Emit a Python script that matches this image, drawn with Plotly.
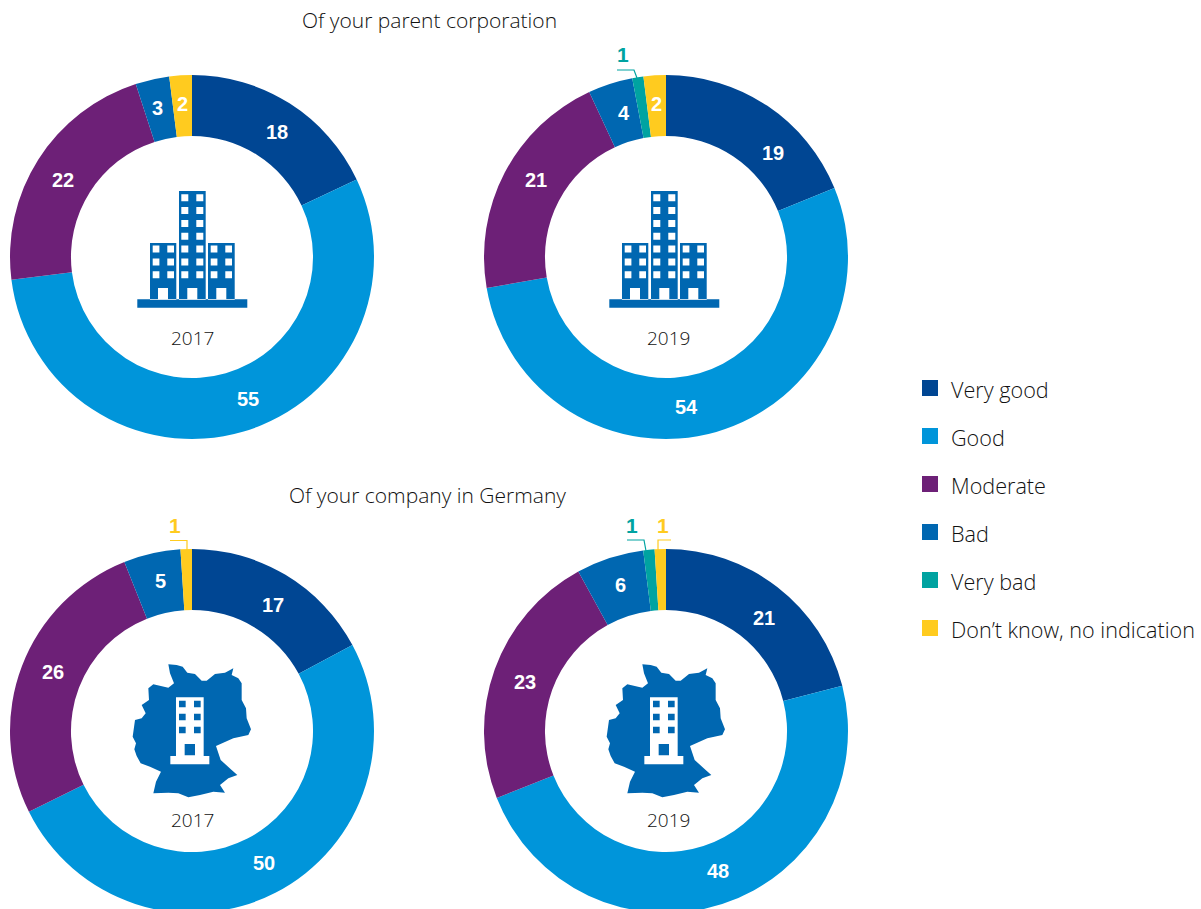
import plotly.graph_objects as go

W, H = 1201, 914
categories = ["Very good", "Good", "Moderate", "Bad", "Very bad", "Don’t know, no indication"]
colors = ["#004693", "#0095DA", "#6D2077", "#0067B1", "#00A3A1", "#FFCB1F"]
parent_2017 = [18, 55, 22, 3, 0, 2]
parent_2019 = [19, 54, 21, 4, 1, 2]
germany_2017 = [17, 50, 26, 5, 0, 1]
germany_2019 = [21, 48, 23, 6, 1, 1]
years = ["2017", "2019"]
titles = ["Of your parent corporation", "Of your company in Germany"]
R = 182
FONT = "Open Sans"
BOLD = "Liberation Sans"
TEXT = "#111111"

# where the reference places each white value label, one (x, y) per category (None: no inside label)
spots_parent_2017 = [(277,132), (248,399), (63,180), (157,108.5), None, (182,104)]
spots_parent_2019 = [(773,153), (686,407), (536,180), (624,113), None, (656,104)]
spots_germany_2017 = [(273,605), (264,863), (53,672), (160,581), None, None]
spots_germany_2019 = [(764,618), (718,871), (525,682), (620,585), None, None]

def X(p): return p / W
def Y(p): return 1 - p / H

def path(points):
    return "M " + " L ".join(f"{X(x):.5f},{Y(y):.5f}" for x, y in points) + " Z"

def rect(x0, y0, x1, y1):
    return path([(x0, y0), (x1, y0), (x1, y1), (x0, y1)])

def fill(d, color):
    return dict(type="path", path=d, xref="paper", yref="paper", fillcolor=color, line_width=0)

def building(dx):
    blue = "#0067B1"
    shapes = [fill(" ".join([rect(137.3+dx, 299.3, 247.3+dx, 307.7), rect(179+dx, 191, 205.7+dx, 300),
                             rect(150+dx, 243, 176.3+dx, 300), rect(208+dx, 243, 234.7+dx, 300)]), blue)]
    rows = [194.3, 207.1, 220, 232.8, 245.6, 258.4, 271.3]
    wins = []
    for i, y in enumerate(rows):
        for x in (181.3, 196.3):
            wins.append(rect(x+dx, y, x+7+dx, y+7))
        if i >= 4:
            for x in (152.7, 167.3, 210.7, 225.3):
                wins.append(rect(x+dx, y, x+6.7+dx, y+7))
    for x in (158, 187.3, 216.3):
        wins.append(rect(x+dx, 288, x+10+dx, 299.3))
    shapes.append(fill(" ".join(wins), "#FFFFFF"))
    return shapes

GERMANY = [(205,43),(230,45),(248,50),(262,68),(285,72),(305,92),(320,92),(345,72),(375,68),(400,55),(395,75),
           (415,85),(425,100),(425,150),(438,175),(440,205),(453,238),(445,255),(400,265),(348,288),(362,330),
           (395,360),(412,375),(385,385),(360,405),(375,428),(340,425),(300,435),(265,442),(235,430),(205,428),
           (160,430),(168,395),(183,365),(150,350),(122,340),(110,318),(103,298),(108,280),(98,260),(105,210),
           (125,205),(137,190),(125,165),(147,150),(145,115),(160,103),(205,113),(222,100),(210,70)]

def germany(dx):
    blue = "#0067B1"
    z = lambda a, b: (100 + a/3 + dx, 650 + b/3)
    zr = lambda a0, b0, a1, b1: path([z(a0, b0), z(a1, b0), z(a1, b1), z(a0, b1)])
    shapes = [fill(path([z(a, b) for a, b in GERMANY]), blue),
              fill(zr(228,142,311,318) + " " + zr(211,318,328,343), "#FFFFFF")]
    wins = [zr(x, y, x+20, y+20) for y in (152,191,230) for x in (237,282)]
    wins.append(zr(254,282,285,316))
    shapes.append(fill(" ".join(wins), blue))
    return shapes

panels = [(192, 257, parent_2017, spots_parent_2017, 192, 339, years[0]),
          (666, 257, parent_2019, spots_parent_2019, 668, 339, years[1]),
          (192, 731, germany_2017, spots_germany_2017, 192, 820, years[0]),
          (666, 731, germany_2019, spots_germany_2019, 668, 820, years[1])]

fig = go.Figure()
ann = []

def note(text, x, y, size=19, color=TEXT, bold=False, anchor="center"):
    ann.append(dict(text=text, x=X(x), y=Y(y), xref="paper", yref="paper", showarrow=False,
                    xanchor=anchor, yanchor="middle",
                    font=dict(family=BOLD if bold else FONT, size=size, color=color,
                              weight="bold" if bold else 300)))

for cx, cy, vals, spots, yx, yy, year in panels:
    fig.add_trace(go.Pie(
        labels=categories, values=vals, sort=False, direction="clockwise", rotation=0, hole=0.665,
        marker=dict(colors=colors, line=dict(width=0)), textinfo="none",
        domain=dict(x=[X(cx-R), X(cx+R)], y=[Y(cy+R), Y(cy-R)]), showlegend=False, hoverinfo="label+value"))
    note(year, yx, yy - 0.5, 19)
    for v, s in zip(vals, spots):
        if s:
            note(str(v), s[0], s[1], 20, "white", True)

note(titles[0], 429, 20.5, 21)
note(titles[1], 427, 494.5, 21)
note(str(parent_2019[4]), 623, 55, 21, colors[4], True)
note(str(germany_2017[5]), 175, 525, 21, colors[5], True)
note(str(germany_2019[4]), 632, 525, 21, colors[4], True)
note(str(germany_2019[5]), 663, 525, 21, colors[5], True)

shapes = []
def leader(pts, color):
    d = "M " + " L ".join(f"{X(x):.5f},{Y(y):.5f}" for x, y in pts)
    shapes.append(dict(type="path", path=d, xref="paper", yref="paper", line=dict(color=color, width=1.2)))
leader([(617,70),(634,70),(637,78)], colors[4])
leader([(170,540.5),(187,540.5),(187,550)], colors[5])
leader([(627,540),(644,540),(646,551)], colors[4])
leader([(671,540),(658,540),(658,551)], colors[5])

shapes += building(0) + building(472) + germany(0) + germany(474)

for i, (c, col) in enumerate(zip(categories, colors)):
    y = 388 + i * 48
    shapes.append(fill(rect(922, y-8, 938, y+8), col))
    note(c, 949, y + 1, 21.6, TEXT, anchor="left")

fig.update_layout(width=W, height=H, margin=dict(l=0, r=0, t=0, b=0), paper_bgcolor="white",
                  shapes=shapes, annotations=ann)
fig.write_html("out.html", post_script="document.body.style.margin='0';document.body.style.overflow='hidden';",
               config=dict(displayModeBar=False))
